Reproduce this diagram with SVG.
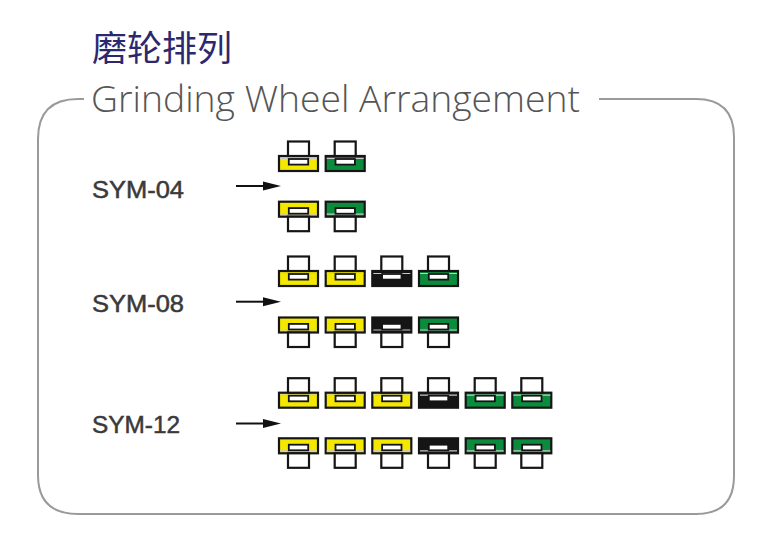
<svg xmlns="http://www.w3.org/2000/svg" xmlns:xlink="http://www.w3.org/1999/xlink" width="770" height="558" viewBox="0 0 770 558">
<style>
.frame{fill:none;stroke:#9a9a9a;stroke-width:2}
.title{font-family:"Noto Sans CJK SC","Noto Sans",sans-serif;font-size:35px;fill:#2c2870}
.sub{font-family:"Open Sans","Liberation Sans",sans-serif;font-weight:300;font-size:37px;fill:#555}
.lbl{font-family:"Liberation Sans","Noto Sans",sans-serif;font-weight:400;font-size:24px;fill:#3a3a3a;stroke:#3a3a3a;stroke-width:0.5}
.arrow{stroke:#111;stroke-width:2;fill:none}
.head{fill:#111}
.base{stroke:#151515;stroke-width:2.2}
.y{fill:#f4e800}
.g{fill:#0b8c3c}
.k{fill:#151515}
.sep{stroke:#c8c8c8;stroke-width:1.2}
.slot{fill:#fff;stroke:#151515;stroke-width:1.8}
.box{fill:#fff;stroke:#151515;stroke-width:2.2}
</style>
<defs>
<g id="up-y"><rect class="base y" x="0" y="0" width="39" height="15"/><line class="sep" x1="1" y1="2.5" x2="38" y2="2.5"/><rect class="slot" x="9.8" y="3" width="19.4" height="5.6"/><rect class="box" x="9" y="-14.5" width="21" height="14.5"/></g>
<g id="up-g"><rect class="base g" x="0" y="0" width="39" height="15"/><line class="sep" x1="1" y1="2.5" x2="38" y2="2.5"/><rect class="slot" x="9.8" y="3" width="19.4" height="5.6"/><rect class="box" x="9" y="-14.5" width="21" height="14.5"/></g>
<g id="up-k"><rect class="base k" x="0" y="0" width="39" height="15"/><line class="sep" x1="1" y1="2.5" x2="38" y2="2.5"/><rect class="slot" x="9.8" y="3" width="19.4" height="5.6"/><rect class="box" x="9" y="-14.5" width="21" height="14.5"/></g>
<g id="dn-y"><rect class="base y" x="0" y="0" width="39" height="15"/><line class="sep" x1="1" y1="12.5" x2="38" y2="12.5"/><rect class="slot" x="9.8" y="6.4" width="19.4" height="5.6"/><rect class="box" x="9" y="15" width="21" height="14.5"/></g>
<g id="dn-g"><rect class="base g" x="0" y="0" width="39" height="15"/><line class="sep" x1="1" y1="12.5" x2="38" y2="12.5"/><rect class="slot" x="9.8" y="6.4" width="19.4" height="5.6"/><rect class="box" x="9" y="15" width="21" height="14.5"/></g>
<g id="dn-k"><rect class="base k" x="0" y="0" width="39" height="15"/><line class="sep" x1="1" y1="12.5" x2="38" y2="12.5"/><rect class="slot" x="9.8" y="6.4" width="19.4" height="5.6"/><rect class="box" x="9" y="15" width="21" height="14.5"/></g>
</defs>
<rect width="770" height="558" fill="#fff"/>
<g id="frame">
<path class="frame" d="M84 99 H78 Q38 99 38 139 V475 Q38 514 78 514 H696 Q734 514 734 476 V137 Q734 99 696 99 H599"/>
</g>
<g id="titles">
<text class="title" x="92" y="61">磨轮排列</text>
<text class="sub" x="91" y="112" textLength="489" lengthAdjust="spacingAndGlyphs">Grinding Wheel Arrangement</text>
</g>
<g id="sym04">
<text class="lbl" x="92" y="198" textLength="92" lengthAdjust="spacingAndGlyphs">SYM-04</text>
<use xlink:href="#up-y" x="279" y="156"/>
<use xlink:href="#up-g" x="325.7" y="156"/>
<use xlink:href="#dn-y" x="279" y="201.7"/>
<use xlink:href="#dn-g" x="325.7" y="201.7"/>
</g>
<g id="sym08">
<text class="lbl" x="92" y="312" textLength="92" lengthAdjust="spacingAndGlyphs">SYM-08</text>
<use xlink:href="#up-y" x="279" y="271"/>
<use xlink:href="#up-y" x="325.7" y="271"/>
<use xlink:href="#up-k" x="372.3" y="271"/>
<use xlink:href="#up-g" x="419" y="271"/>
<use xlink:href="#dn-y" x="279" y="317.5"/>
<use xlink:href="#dn-y" x="325.7" y="317.5"/>
<use xlink:href="#dn-k" x="372.3" y="317.5"/>
<use xlink:href="#dn-g" x="419" y="317.5"/>
</g>
<g id="sym12">
<text class="lbl" x="92" y="433" textLength="88" lengthAdjust="spacingAndGlyphs">SYM-12</text>
<use xlink:href="#up-y" x="279" y="392.7"/>
<use xlink:href="#up-y" x="325.7" y="392.7"/>
<use xlink:href="#up-y" x="372.3" y="392.7"/>
<use xlink:href="#up-k" x="419" y="392.7"/>
<use xlink:href="#up-g" x="465.7" y="392.7"/>
<use xlink:href="#up-g" x="512.3" y="392.7"/>
<use xlink:href="#dn-y" x="279" y="438.3"/>
<use xlink:href="#dn-y" x="325.7" y="438.3"/>
<use xlink:href="#dn-y" x="372.3" y="438.3"/>
<use xlink:href="#dn-k" x="419" y="438.3"/>
<use xlink:href="#dn-g" x="465.7" y="438.3"/>
<use xlink:href="#dn-g" x="512.3" y="438.3"/>
</g>
<g id="connectors">
<line class="arrow" x1="236" y1="186" x2="266" y2="186"/><polygon class="head" points="263,181.5 281,186 263,190.5"/>
<line class="arrow" x1="236" y1="301.7" x2="266" y2="301.7"/><polygon class="head" points="263,297.2 281,301.7 263,306.2"/>
<line class="arrow" x1="236" y1="423.5" x2="266" y2="423.5"/><polygon class="head" points="263,419 281,423.5 263,428"/>
</g>
</svg>
